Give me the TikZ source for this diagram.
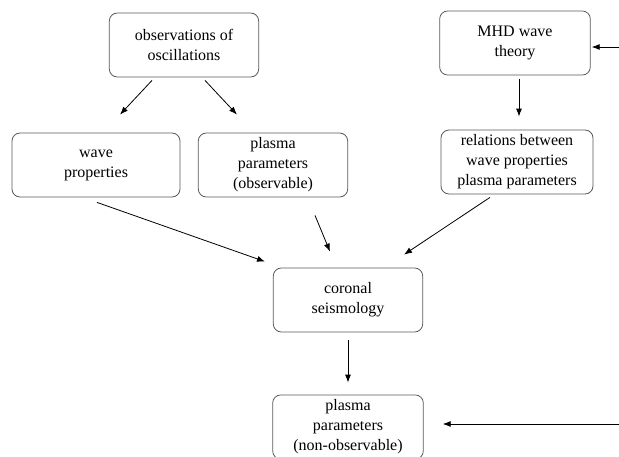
\documentclass[tikz,border=0pt]{standalone}
\usepackage{fontspec}
\setmainfont{Liberation Serif}
\usetikzlibrary{arrows.meta,calc}

\tikzset{
  stagebox/.style={draw=black!65, line width=0.6pt, rounded corners=6pt, align=center,
    minimum height=48pt, inner sep=2pt, font=\fontsize{12}{15}\selectfont},
  flow/.style={-{Latex[length=6pt,width=4.5pt]}, line width=0.6pt}
}

\begin{document}
\begin{tikzpicture}[x=0.75pt,y=-0.75pt]
\useasboundingbox (0,0) rectangle (619,457);
\clip (0,0) rectangle (619,457);
\node[stagebox, minimum width=112pt] (obs) at (184,45) {observations of\\oscillations};
\node[stagebox, minimum width=113pt] (mhd) at (515,43) {MHD wave\\theory};
\node[stagebox, minimum width=126pt] (wave) at (96,165) {wave\\properties};
\node[stagebox, minimum width=112pt] (plobs) at (273,165) {plasma\\parameters\\(observable)};
\node[stagebox, minimum width=114pt] (rel) at (517,162) {relations between\\wave properties\\plasma parameters};
\node[stagebox, minimum width=112pt] (cor) at (348,300) {coronal\\seismology};
\node[stagebox, minimum width=113pt] (plnon) at (348,427) {plasma\\parameters\\(non-observable)};
\coordinate (intop) at (619,47);
\coordinate (inbot) at (619,424);
\draw[flow] ($(obs.south)+(-32,3)$) -- ($(wave.north)+(24,-18)$);
\draw[flow] ($(obs.south)+(21,3)$) -- ($(plobs.north)+(-36,-18)$);
\draw[flow] ($(mhd.south)+(4,4)$) -- ($(rel.north)+(2,-13)$);
\draw[flow] ($(wave.south)+(1,5)$) -- ($(cor.north)+(-83,-6)$);
\draw[flow] ($(plobs.south)+(42,18)$) -- ($(cor.north)+(-18,-16)$);
\draw[flow] ($(rel.south)+(-27,3)$) -- ($(cor.north)+(56,-13)$);
\draw[flow] ($(cor.south)+(0,8)$) -- ($(plnon.north)+(0,-12)$);
\draw[flow] (intop) -- ($(mhd.east)+(1,4)$);
\draw[flow] (inbot) -- ($(plnon.east)+(19,-3)$);
\end{tikzpicture}
\end{document}
